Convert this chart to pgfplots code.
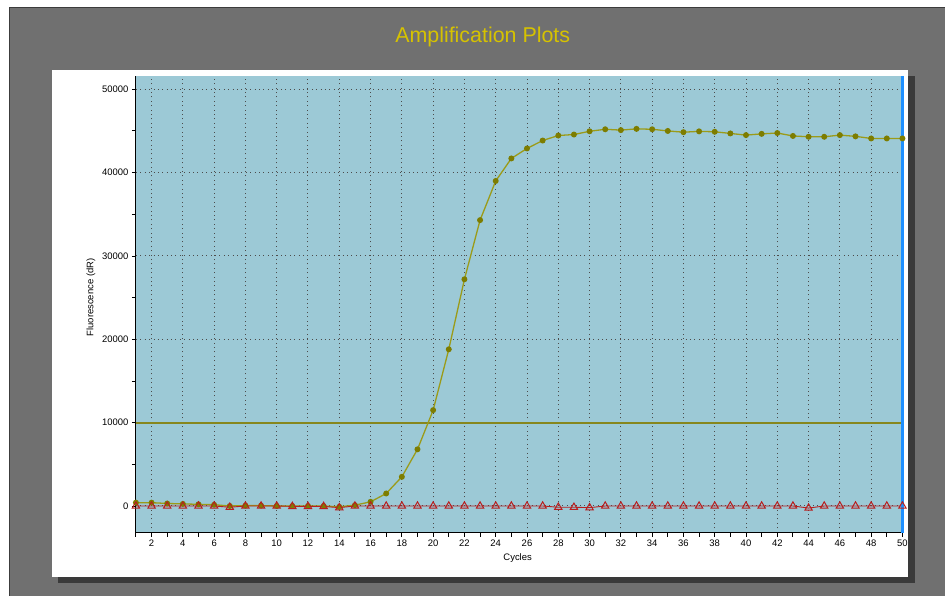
\documentclass[border=0pt]{standalone}
\usepackage{pgfplots}
\pgfplotsset{compat=1.18}
\usepackage{fontspec}
\setmainfont{Liberation Sans}

\definecolor{bggray}{RGB}{112,112,112}
\definecolor{framegray}{RGB}{60,60,60}
\definecolor{shadowgray}{RGB}{58,58,58}
\definecolor{plotblue}{RGB}{156,201,214}
\definecolor{titleyellow}{RGB}{214,194,0}
\definecolor{ampolive}{RGB}{155,155,25}
\definecolor{markolive}{RGB}{125,125,0}
\definecolor{threshold}{RGB}{135,135,30}
\definecolor{ntcred}{RGB}{185,30,30}
\definecolor{edgeblue}{RGB}{30,144,255}

% sample amplification (dR) per cycle
\pgfplotstableread{
cycle dR
1 400
2 400
3 300
4 250
5 200
6 150
7 0
8 50
9 50
10 0
11 0
12 0
13 0
14 -100
15 100
16 500
17 1500
18 3500
19 6800
20 11500
21 18800
22 27200
23 34300
24 39000
25 41700
26 42900
27 43850
28 44450
29 44570
30 44960
31 45200
32 45100
33 45250
34 45200
35 45000
36 44850
37 44950
38 44900
39 44700
40 44500
41 44650
42 44750
43 44400
44 44300
45 44300
46 44500
47 44350
48 44100
49 44100
50 44100
}\sampletable

% no-template control
\pgfplotstableread{
cycle dR
1 0
2 0
3 0
4 0
5 0
6 0
7 -150
8 0
9 0
10 0
11 -50
12 -50
13 -50
14 -200
15 0
16 0
17 0
18 0
19 0
20 0
21 0
22 0
23 0
24 0
25 0
26 0
27 0
28 -150
29 -150
30 -200
31 0
32 0
33 0
34 0
35 0
36 0
37 0
38 0
39 0
40 0
41 0
42 0
43 0
44 -250
45 0
46 0
47 0
48 0
49 0
50 0
}\ntctable

\begin{document}
\begin{tikzpicture}[x=1bp,y=1bp]
  % window background
  \fill[white] (0,0) rectangle (946,596);
  \fill[bggray] (9,0) rectangle (946,589);
  \draw[framegray, line width=1.2bp] (9.5,0) -- (9.5,588.5) -- (946,588.5);
  % chart panel with drop shadow
  \fill[shadowgray] (58,13) rectangle (916,520);
  \fill[white] (52,19) rectangle (909,526);
  % title
  \node[text=titleyellow, font=\fontsize{21.5}{24}\selectfont] at (483,559) {Amplification Plots};

  \begin{axis}[
    at={(136bp,63bp)}, anchor=south west,
    scale only axis, width=767bp, height=457bp,
    xmin=1, xmax=50, ymin=-3200, ymax=51600,
    axis x line*=bottom, axis y line*=left,
    axis line style={black, line width=0.9bp, -},
    axis background/.style={fill=plotblue},
    xtick={2,4,...,50}, minor xtick={1,3,...,49},
    ytick={0,10000,20000,30000,40000,50000},
    minor ytick={5000,15000,25000,35000,45000},
    tick align=outside,
    major tick length=4bp, minor tick length=4bp,
    tick style={black, line width=0.9bp},
    xmajorgrids, ymajorgrids,
    grid style={black!70, line width=1bp, dash pattern=on 1bp off 3.4bp},
    tick label style={font=\fontsize{9.5}{11}\selectfont},
    /pgf/number format/assume math mode=true,
    /pgf/number format/.cd, set thousands separator={}, 1000 sep={},
    /pgfplots/.cd,
    scaled y ticks=false,
    xlabel={Cycles},
    ylabel={Fluorescence (dR)},
    label style={font=\fontsize{9.5}{11}\selectfont},
    xlabel style={at={(axis description cs:0.498,-0.0547)}, anchor=center},
    ylabel style={at={(axis description cs:-0.0587,0.515)}, anchor=center},
    clip=false,
  ]
    % threshold
    \addplot[threshold, line width=1.8bp, no marks] coordinates {(1,10000) (50,10000)};
    % sample
    \addplot[ampolive, line width=1.3bp, mark=*, mark size=2.3bp,
             mark options={fill=markolive, draw=markolive}]
      table[x=cycle, y=dR] {\sampletable};
    % NTC
    \addplot[ntcred, line width=0.9bp, mark=triangle, mark size=4.2bp,
             mark options={draw=ntcred, line width=1bp}]
      table[x=cycle, y=dR] {\ntctable};
    % right edge marker
    \draw[edgeblue, line width=2.6bp] (rel axis cs:1,0) -- (rel axis cs:1,1);
  \end{axis}
\end{tikzpicture}
\end{document}
